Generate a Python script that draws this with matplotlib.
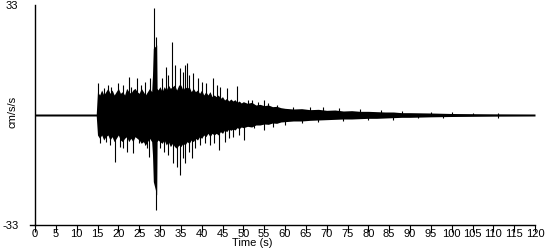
import numpy as np
import matplotlib
matplotlib.use('Agg')
import matplotlib.pyplot as plt

plt.rcParams['font.family'] = ['Liberation Sans', 'DejaVu Sans']

# ragged envelope of the dense part of the record (cm/s/s)
env_t = [0, 14.7,
         15.0, 15.5, 16, 16.5, 17, 17.5, 18, 18.5, 19, 19.5, 20, 20.5, 21, 21.5,
         22, 22.5, 23, 23.5, 24, 24.5, 25, 25.5, 26, 26.5, 27, 27.5, 28,
         28.2, 28.4, 29.2, 29.3,
         29.5, 30, 30.5, 31, 31.5, 32, 32.5, 33, 33.5, 34, 34.5, 35, 35.5, 36, 36.5, 37, 37.5,
         38, 38.5, 39, 39.5, 40, 40.5, 41, 41.5, 42, 42.5, 43, 43.5, 44, 44.5, 45, 45.5,
         46, 46.5, 47, 47.5, 48, 48.5, 49, 49.5, 50,
         51, 52, 53, 54, 55, 56, 57, 58, 59, 60,
         62, 64, 66, 68, 70, 72, 74, 76, 78, 80, 82, 84, 86, 88, 90,
         95, 100, 105, 110, 120]
env_hi = [0.3, 0.3,
          7, 6, 7.5, 6, 7, 8, 6.5, 7.5, 6, 7, 8, 6.5, 7, 6,
          8, 7, 6.5, 7.5, 8, 7, 6.5, 8, 7, 6, 7, 8, 7,
          12, 20, 21, 8,
          7.5, 8.5, 7, 8.5, 7.5, 9, 8, 8.5, 9, 7.5, 9, 9, 7.5, 8.5, 8, 8.5, 7,
          8, 7, 7.5, 6.5, 7.5, 6, 7, 6, 7, 5.5, 6, 5.5, 6, 5, 5.5, 4.5,
          5, 4.2, 4.8, 4.2, 4.6, 3.8, 4.2, 3.6, 4,
          3.5, 3.8, 3, 3.2, 2.8, 3, 2.5, 2.6, 2.2, 2.0,
          1.8, 1.9, 1.6, 1.7, 1.4, 1.5, 1.2, 1.3, 1.1, 1.1, 1.0, 0.9, 0.9, 0.7, 0.7,
          0.6, 0.45, 0.4, 0.35, 0.3]
env_lo = [-0.3, -0.3,
          -6, -7, -6, -7.5, -6.5, -6, -7.5, -6.5, -8, -7, -6, -7.5, -8, -7,
          -6.5, -8, -7, -8, -6.5, -7, -7.5, -8.5, -8, -9, -8, -7, -8,
          -12, -20, -24, -8,
          -7.5, -8, -8.5, -7.5, -9, -8, -9.5, -8.5, -9.5, -10, -9, -9.5, -8.5, -9, -8, -8.5, -7.5,
          -8, -7, -7.5, -6.5, -7, -6, -6.5, -5.5, -6.5, -5.5, -6, -5.5, -6, -5, -5.5, -4.5,
          -5, -4.2, -4.6, -4.2, -4.5, -3.8, -4.1, -3.6, -3.8,
          -3.4, -3.6, -3, -3, -2.7, -2.8, -2.4, -2.5, -2.1, -2,
          -1.8, -1.8, -1.6, -1.5, -1.4, -1.3, -1.2, -1.2, -1.1, -1.0, -1.0, -0.9, -0.8, -0.7, -0.7,
          -0.55, -0.45, -0.4, -0.35, -0.3]

# single peaks sticking out of the envelope
up_t = [15.2, 16.5, 17.5, 18.3, 19.9, 21, 22.6, 23, 24.5, 25.5, 26.4, 27.6, 28.6, 29.1,
        30.5, 31.4, 32, 32.8, 33.6, 34.8, 35.5, 36.0, 36.4, 37, 38, 39.2, 40, 41, 42.6, 43.6,
        44.5, 46, 48.4, 51, 52, 53.5, 55, 56, 58, 62, 66, 69, 73, 78, 83, 88, 95, 100, 105, 111]
up_v = [9.6, 8, 9, 8.5, 9.6, 9, 11.4, 8.5, 11, 9, 10, 11, 32, 23.4,
        11, 14.5, 12, 22, 15, 14, 13, 15, 15.6, 12, 12.5, 11, 10, 9.5, 11, 9,
        8.5, 8, 8.7, 4.5, 4.5, 4, 4.5, 3.5, 3, 2.5, 2.3, 2.5, 2, 1.8, 1.6, 1.2, 0.9, 0.8, 0.6, 0.6]
dn_t = [15.6, 17, 18, 19.2, 20.5, 21.2, 22, 23.6, 25, 26.4, 26.8, 27.4, 29.0,
        30, 31, 32, 33.2, 34.0, 34.8, 35.5, 36, 37, 37.6, 38.5, 39.5, 40.8, 42, 43, 44.2, 45.5,
        46.6, 47.5, 49, 50.2, 52.5, 55, 57, 60, 64, 68, 74, 80, 86, 92, 98, 111]
dn_v = [-8.4, -8, -9, -14, -9.5, -10, -11, -11.5, -8.5, -9, -10, -12.5, -28.5,
        -10, -11, -12, -14.5, -15.6, -18, -13, -14.5, -11, -13, -10, -9, -8.5, -9, -8.5, -10.5, -8,
        -7, -6.5, -6, -7.5, -4, -4.5, -3.5, -3, -2.5, -2.2, -1.8, -1.5, -1.6, -1, -0.9, -0.8]

xticks = list(range(0, 121, 5))

fig = plt.figure(figsize=(5.5, 2.5), dpi=100)
ax = fig.add_axes([35 / 550, 0.1, 500 / 550, 0.88])

ax.fill_between(env_t, env_lo, env_hi, color='black', lw=0)
ax.vlines(up_t, 0, up_v, color='black', lw=0.8)
ax.vlines(dn_t, 0, dn_v, color='black', lw=0.8)

ax.set_xlim(0, 120)
ax.set_ylim(-33, 33)
ax.spines['top'].set_visible(False)
ax.spines['right'].set_visible(False)
ax.spines['left'].set_linewidth(1)
ax.spines['bottom'].set_linewidth(1)
ax.plot([-1.3, 0], [-33, -33], color='black', lw=1, clip_on=False)

ax.set_xticks(xticks)
ax.set_xticklabels([str(v) for v in xticks])
ax.tick_params(axis='x', direction='out', length=5, width=0.8, pad=-2, labelsize=8)
ax.set_yticks([-33, 33])
ax.set_yticklabels(['-33', '33'])
ax.tick_params(axis='y', length=0, pad=12, labelsize=8)

fig.text(12 / 550, 1 - 112 / 250, 'cm/s/s', rotation=90, ha='center', va='center', fontsize=8)
fig.text(252 / 550, 1 - 243 / 250, 'Time (s)', ha='center', va='center', fontsize=8)

fig.savefig('out.png', dpi=100)
